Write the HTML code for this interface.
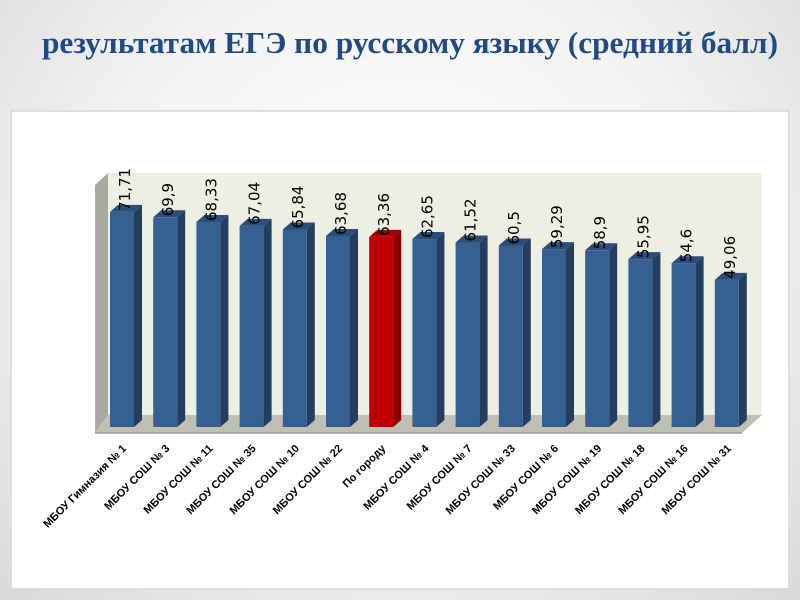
<!DOCTYPE html>
<html><head><meta charset="utf-8"><style>
html,body{margin:0;padding:0;width:800px;height:600px;overflow:hidden;background:radial-gradient(ellipse at 50% 40%,#ffffff 0%,#f2f2f2 55%,#d9d9d9 100%);}
svg{position:absolute;left:0;top:0}
</style></head><body>
<svg id="s" width="800" height="600" xmlns="http://www.w3.org/2000/svg">
<rect x="11" y="111" width="778" height="478" fill="#ffffff" stroke="#d6d6d6" stroke-width="1.5"/>
<text x="42" y="53" font-family="Liberation Serif, serif" font-weight="bold" font-size="31" fill="#1f4a86" textLength="736" lengthAdjust="spacingAndGlyphs">результатам ЕГЭ по русскому языку (средний балл)</text>
<polygon points="108,173 762,173 762,415 108,415" fill="#ecefe2"/>
<polygon points="95,185 108,173 108,415 95,433" fill="#a9aa9e"/>
<polygon points="95,433 108,415 762,415 742,433" fill="#bfc0b3"/>
<line x1="95" y1="433" x2="742" y2="433" stroke="#9a9b90" stroke-width="1.5"/>
<g id="bars"></g>
</svg>
<script>
var v=[71.71,69.9,68.33,67.04,65.84,63.68,63.36,62.65,61.52,60.5,59.29,58.9,55.95,54.6,49.06];
var n=["МБОУ Гимназия № 1","МБОУ СОШ № 3","МБОУ СОШ № 11","МБОУ СОШ № 35","МБОУ СОШ № 10","МБОУ СОШ № 22","По городу","МБОУ СОШ № 4","МБОУ СОШ № 7","МБОУ СОШ № 33","МБОУ СОШ № 6","МБОУ СОШ № 19","МБОУ СОШ № 18","МБОУ СОШ № 16","МБОУ СОШ № 31"];
var h="";
for(var i=0;i<15;i++){
 var x=110+i*43.2, w=24, d=8, b=427, t=b-v[i]*3;
 var red=i==6;
 var f=red?"#c00000":"#376092", s=red?"#8a0000":"#233e5f", tp=red?"#a80000":"#2b4d77";
 h+='<polygon points="'+(x+w)+','+t+' '+(x+w+d)+','+(t-7)+' '+(x+w+d)+','+(b-7)+' '+(x+w)+','+b+'" fill="'+s+'"/>';
 h+='<polygon points="'+x+','+t+' '+(x+d)+','+(t-7)+' '+(x+w+d)+','+(t-7)+' '+(x+w)+','+t+'" fill="'+tp+'"/>';
 h+='<rect x="'+x+'" y="'+t+'" width="'+w+'" height="'+(b-t)+'" fill="'+f+'"/>';
 var lx=x+20, ly=t-1;
 h+='<text transform="translate('+lx+','+ly+') rotate(-90)" font-family="DejaVu Sans, sans-serif" font-size="15" fill="#000">'+String(v[i]).replace('.',',')+'</text>';
 var cx=x+17, cy=449;
 h+='<text transform="translate('+cx+','+cy+') rotate(-45)" text-anchor="end" font-family="Liberation Sans, sans-serif" font-weight="bold" font-size="11" fill="#000">'+n[i]+'</text>';
}
document.getElementById("bars").innerHTML=h;
</script>
</body></html>
